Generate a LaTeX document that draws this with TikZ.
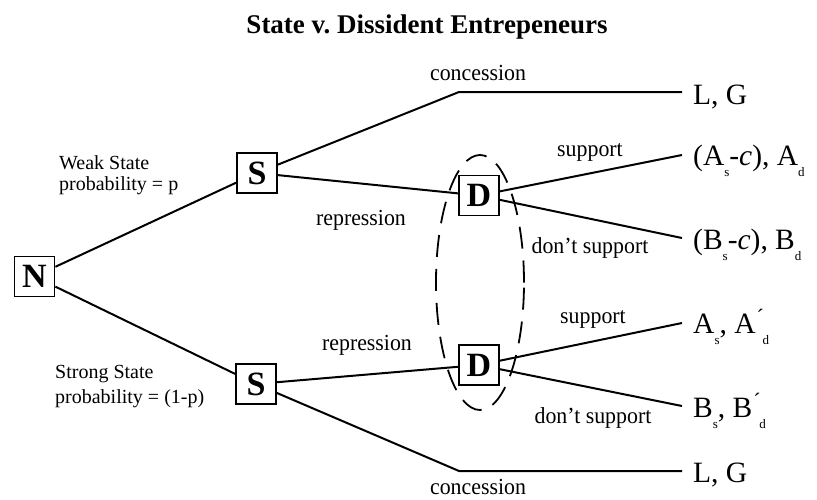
\documentclass[tikz,border=0pt]{standalone}
\usepackage{fontspec}
\usepackage{graphicx}
\setmainfont{Liberation Serif}
\newcommand{\lsub}[1]{\raisebox{-11pt}{\fontsize{13}{13}\selectfont #1}}
\newcommand{\lpr}{\rlap{\raisebox{9pt}{\fontsize{22}{22}\selectfont\kern1pt ´}}\kern7pt}
\newcommand{\cond}[1]{\scalebox{0.95}[1]{#1}}
\begin{document}
\begin{tikzpicture}[x=1pt,y=-1pt,
  tree/.style={line width=2pt},
  player/.style={draw, line width=1.8pt, fill=white, minimum width=40pt, minimum height=40pt, inner sep=0pt, font=\fontsize{34}{34}\selectfont\bfseries},
  elabel/.style={font=\fontsize{23}{25}\selectfont, inner sep=0pt, anchor=base},
  nlabel/.style={font=\fontsize{20}{22}\selectfont, inner sep=0pt, anchor=base west},
  payoff/.style={font=\fontsize{29.5}{32}\selectfont, inner sep=0pt, anchor=base west},
  info/.style={line width=1.8pt, dash pattern=on 22pt off 12pt}]
\useasboundingbox (0,0) rectangle (817,499);
% title
\node[font=\fontsize{27}{30}\selectfont\bfseries, inner sep=0pt, anchor=base] (title) at (427,33) {State v.\ Dissident Entrepeneurs};
% information set
\draw[info] (480,282.5) ellipse [x radius=44pt, y radius=127.5pt];
% coordinates
\coordinate (c1) at (459,92);
\coordinate (e1) at (682,92);
\coordinate (c2) at (459,471);
\coordinate (e2) at (682,471);
\coordinate (p1) at (682,155);
\coordinate (p2) at (682,238);
\coordinate (p3) at (682,323);
\coordinate (p4) at (682,406);
% players
\node[player] (N) at (34.5,276.5) {N};
\node[player] (S1) at (257,173) {S};
\node[player] (S2) at (256,384) {S};
\node[player] (D1) at (479,195.5) {D};
\node[player] (D2) at (479,365) {D};
% branches
\draw[tree] (N) -- (S1);
\draw[tree] (N) -- (S2);
\draw[tree] (S1) -- (c1) -- (e1);
\draw[tree] (S1) -- (D1);
\draw[tree] (S2) -- (D2);
\draw[tree] (S2) -- (c2) -- (e2);
\draw[tree] (D1) -- (p1);
\draw[tree] (D1) -- (p2);
\draw[tree] (D2) -- (p3);
\draw[tree] (D2) -- (p4);
% nature labels
\node[nlabel] (w1) at (59,169) {Weak State};
\node[nlabel] (w2) at (59,190) {probability = p};
\node[nlabel] (s1) at (55,378) {Strong State};
\node[nlabel] (s2) at (55,403) {probability = (1-p)};
% edge labels
\node[elabel] (lc1) at (478,80) {\cond{concession}};
\node[elabel] (lr1) at (361,225) {\cond{repression}};
\node[elabel] (ls1) at (590,156) {\cond{support}};
\node[elabel] (ld1) at (590,253) {\cond{don’t support}};
\node[elabel] (lr2) at (367,350) {\cond{repression}};
\node[elabel] (ls2) at (593,323) {\cond{support}};
\node[elabel] (ld2) at (593,423) {\cond{don’t support}};
\node[elabel] (lc2) at (478,494) {\cond{concession}};
% payoffs
\node[payoff] (o1) at (693,104) {L, G};
\node[payoff] (o2) at (693,165.5) {(A\lsub{s}-\textit{c}), A\lsub{d}};
\node[payoff] (o3) at (693,249) {(B\lsub{s}-\textit{c}), B\lsub{d}};
\node[payoff] (o4) at (693,333) {A\lsub{s}, A\lpr\lsub{d}};
\node[payoff] (o5) at (693,417) {B\lsub{s}, B\lpr\lsub{d}};
\node[payoff] (o6) at (693,482) {L, G};
\end{tikzpicture}
\end{document}
